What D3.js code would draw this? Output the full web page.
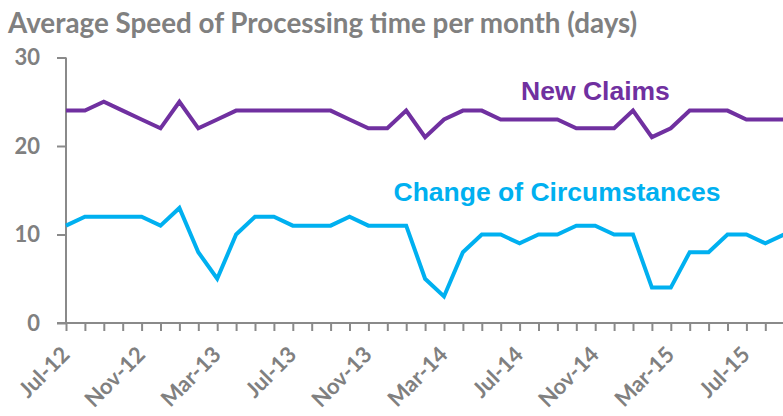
<!DOCTYPE html>
<html>
<head>
<meta charset="utf-8">
<script src="https://cdn.jsdelivr.net/npm/d3@7/dist/d3.min.js"></script>
<style>
  html, body { margin: 0; padding: 0; background: #fff; }
  svg { display: block; }
</style>
</head>
<body>
<svg id="chart" width="783" height="416"></svg>
<script>
// months Jul-12 .. Sep-15 (last one falls just off the right edge)
var months = ["Jul-12","Aug-12","Sep-12","Oct-12","Nov-12","Dec-12","Jan-13","Feb-13","Mar-13","Apr-13","May-13","Jun-13",
              "Jul-13","Aug-13","Sep-13","Oct-13","Nov-13","Dec-13","Jan-14","Feb-14","Mar-14","Apr-14","May-14","Jun-14",
              "Jul-14","Aug-14","Sep-14","Oct-14","Nov-14","Dec-14","Jan-15","Feb-15","Mar-15","Apr-15","May-15","Jun-15",
              "Jul-15","Aug-15","Sep-15"];
var newClaims = [24,24,25,24,23,22,25,22,23,24,24,24,24,24,24,23,22,22,24,21,23,24,24,23,23,23,23,22,22,22,24,21,22,24,24,24,23,23,23];
var changeCirc = [11,12,12,12,12,11,13,8,5,10,12,12,11,11,11,12,11,11,11,5,3,8,10,10,9,10,10,11,11,10,10,4,4,8,8,10,10,9,10];
var yTicks = [0, 10, 20, 30];
var labelMonths = ["Jul-12","Nov-12","Mar-13","Jul-13","Nov-13","Mar-14","Jul-14","Nov-14","Mar-15","Jul-15"];

var purple = "#7030a0", cyan = "#00b0f0", grey = "#808080", axisGrey = "#8a8a8a";

var svg = d3.select("#chart");

var x = d3.scalePoint()
          .domain(months)
          .range([66, 66 + 38 * 18.9]);
var y = d3.scaleLinear()
          .domain([0, 30])
          .range([323, 57.5]);

// title
svg.append("text")
   .attr("x", 8)
   .attr("y", 33)
   .attr("fill", grey)
   .style("font-family", "Lato, sans-serif")
   .style("font-weight", "bold")
   .style("font-size", "27.8px")
   .text("Average Speed of Processing time per month (days)");

// y axis
var yAxis = svg.append("g")
   .attr("transform", "translate(66,0)")
   .call(d3.axisLeft(y).tickValues(yTicks).tickSize(9).tickPadding(17));
yAxis.select(".domain").attr("stroke", axisGrey).attr("stroke-width", 2).attr("d", "M0,57.5V323");
yAxis.selectAll(".tick line").attr("stroke", axisGrey).attr("stroke-width", 2);
yAxis.selectAll(".tick text")
   .attr("fill", grey)
   .style("font-family", "Lato, sans-serif")
   .style("font-weight", "bold")
   .style("font-size", "22px");

// x axis, a tick every month
var xAxis = svg.append("g")
   .attr("transform", "translate(0,323)")
   .call(d3.axisBottom(x).tickValues(months.slice(0, 38)).tickSize(8).tickFormat(""));
xAxis.select(".domain").attr("stroke", axisGrey).attr("stroke-width", 2).attr("d", "M57,0H783");
xAxis.selectAll(".tick line").attr("stroke", axisGrey).attr("stroke-width", 2);

svg.append("g").selectAll("text")
   .data(labelMonths)
   .enter().append("text")
   .attr("transform", function(d) { return "translate(" + (x(d) + 5) + ",356) rotate(-45)"; })
   .attr("text-anchor", "end")
   .attr("fill", grey)
   .style("font-family", "Lato, sans-serif")
   .style("font-weight", "bold")
   .style("font-size", "22px")
   .text(function(d) { return d; });

// lines
var line = function(vals) {
  return d3.line()
           .x(function(d, i) { return x(months[i]); })
           .y(function(d) { return y(d); })(vals);
};

svg.append("path")
   .attr("d", line(changeCirc))
   .attr("fill", "none")
   .attr("stroke", cyan)
   .attr("stroke-width", 4)
   .attr("stroke-linejoin", "miter");

svg.append("path")
   .attr("d", line(newClaims))
   .attr("fill", "none")
   .attr("stroke", purple)
   .attr("stroke-width", 4)
   .attr("stroke-linejoin", "miter");

// series labels
svg.append("text")
   .attr("x", 595.5)
   .attr("y", 100)
   .attr("text-anchor", "middle")
   .attr("fill", purple)
   .style("font-family", "'Liberation Sans', Arial, sans-serif")
   .style("font-weight", "bold")
   .style("font-size", "26.5px")
   .text("New Claims");

svg.append("text")
   .attr("x", 557)
   .attr("y", 201)
   .attr("text-anchor", "middle")
   .attr("fill", cyan)
   .style("font-family", "'Liberation Sans', Arial, sans-serif")
   .style("font-weight", "bold")
   .style("font-size", "26.5px")
   .text("Change of Circumstances");
</script>
</body>
</html>
